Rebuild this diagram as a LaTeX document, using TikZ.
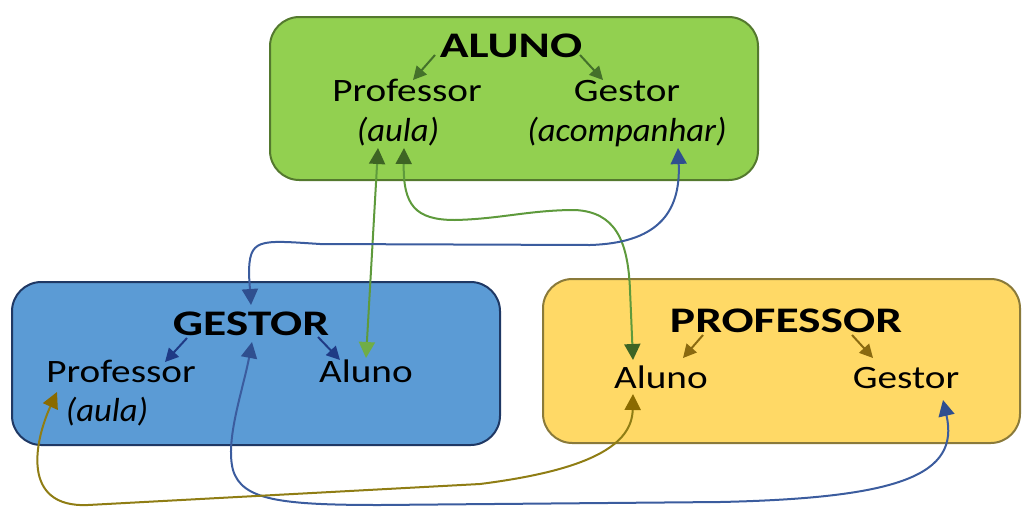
\documentclass[tikz,border=0pt]{standalone}
\usepackage{fontspec}
\setmainfont{Carlito}
\usetikzlibrary{arrows.meta,calc}
\definecolor{gfill}{HTML}{92D050}
\definecolor{gbord}{HTML}{54792E}
\definecolor{bfill}{HTML}{5B9BD5}
\definecolor{bbord}{HTML}{1F3864}
\definecolor{yfill}{HTML}{FFD966}
\definecolor{ybord}{HTML}{8A7A3A}
\definecolor{gdark}{HTML}{3D6424}
\definecolor{gline}{HTML}{5E9A3C}
\definecolor{glight}{HTML}{70AD47}
\definecolor{bline}{HTML}{3B5C9E}
\definecolor{bdark}{HTML}{2F4F8F}
\definecolor{binner}{HTML}{1F3A85}
\definecolor{oline}{HTML}{8F7D14}
\definecolor{odark}{HTML}{8A6A00}
\definecolor{yinner}{HTML}{8A6A10}
\definecolor{ginner}{HTML}{44712A}
\newcommand\BoldW[1]{\scalebox{1.32}[1]{#1}}
\newcommand\RegW[1]{\scalebox{1.2}[1]{#1}}
\newcommand\ItW[1]{\scalebox{1.04}[1]{#1}}
\begin{document}
\begin{tikzpicture}[x=0.75pt,y=-0.75pt,
  box/.style 2 args={fill=#1, draw=#2, line width=1.5pt, rounded corners=22pt},
  ttl/.style={font=\fontsize{27}{32}\selectfont\bfseries, inner sep=0pt, anchor=base},
  lbl/.style={font=\fontsize{24.5}{29}\selectfont, inner sep=0pt, anchor=base},
  itl/.style={font=\fontsize{25}{30}\selectfont\itshape, inner sep=0pt, anchor=base},
  inarr/.style={draw=#1, line width=1.5pt, arrows={-Triangle[length=10pt,width=10pt,color=#1]}},
  dbl/.style n args={3}{draw=#1, line width=1.5pt, arrows={Triangle[length=12pt,width=12pt,color=#2]-Triangle[length=12pt,width=12pt,color=#3]}}
]
\useasboundingbox (0,0) rectangle (1023,507);
% boxes
\draw[box={gfill}{gbord}] (270,17) rectangle (758,180);
\draw[box={bfill}{bbord}] (12,282) rectangle (500,445);
\draw[box={yfill}{ybord}] (543,279) rectangle (1020,443);
% texts
\node[ttl] (aluno) at (511,57) {\BoldW{ALUNO}};
\node[lbl] (aProf) at (407,101) {\RegW{Professor}};
\node[lbl] (aGest) at (627,101) {\RegW{Gestor}};
\node[itl] (aAula) at (398,141) {\ItW{(aula)}};
\node[itl] (aAcomp) at (627,141) {\ItW{(acompanhar)}};
\node[ttl] (gGes) at (251,335) {\BoldW{GESTOR}};
\node[lbl] (gProf) at (121,382) {\RegW{Professor}};
\node[itl] (gAula) at (107,421) {\ItW{(aula)}};
\node[lbl] (gAluno) at (366,382) {\RegW{Aluno}};
\node[ttl] (pProf) at (786,332) {\BoldW{PROFESSOR}};
\node[lbl] (pAluno) at (661,388) {\RegW{Aluno}};
\node[lbl] (pGest) at (906,388) {\RegW{Gestor}};
% inner arrows
\draw[inarr=ginner] ($(aluno.base)+(-76,-2)$) -- ($(aProf.base)+(6,-21)$);
\draw[inarr=ginner] ($(aluno.base)+(69,-2)$) -- ($(aGest.base)+(-24,-21)$);
\draw[inarr=binner] ($(gGes.base)+(-64,3)$) -- ($(gProf.base)+(44,-20)$);
\draw[inarr=binner] ($(gGes.base)+(67,2)$) -- ($(gAluno.base)+(-26,-22)$);
\draw[inarr=yinner] ($(pProf.base)+(-83,3)$) -- ($(pAluno.base)+(22,-30)$);
\draw[inarr=yinner] ($(pProf.base)+(66,3)$) -- ($(pGest.base)+(-33,-30)$);
% connectors
\draw[dbl={gline}{gdark}{glight}] ($(aAula.base)+(-20,7)$) -- ($(gAluno.base)+(0,-24)$);
\draw[dbl={gline}{gdark}{gdark}] ($(aAula.base)+(6,7)$) .. controls (403,205) and (415,220) .. (455,220)
  .. controls (500,219) and (530,210) .. (575,210) .. controls (615,212) and (628,240) .. (630,290)
  -- ($(pAluno.base)+(-28,-28)$);
\draw[dbl={bline}{bdark}{bdark}] ($(aAcomp.base)+(51,7)$) .. controls (681,215) and (655,243) .. (590,245)
  -- (320,244) .. controls (258,240) and (249,238) .. (249,275) -- ($(gGes.base)+(0,-30)$);
\draw[dbl={bline}{bdark}{bdark}] ($(gGes.base)+(1,7)$) .. controls (243,390) and (225,440) .. (233,470)
  .. controls (242,500) and (280,505) .. (380,505) -- (720,502)
  .. controls (900,498) and (960,475) .. ($(pGest.base)+(37,12)$);
\draw[dbl={oline}{odark}{odark}] ($(gProf.base)+(-64,10)$) .. controls (35,440) and (20,508) .. (88,505)
  -- (480,484) .. controls (590,470) and (632,445) .. ($(pAluno.base)+(-28,6)$);
\end{tikzpicture}
\end{document}
